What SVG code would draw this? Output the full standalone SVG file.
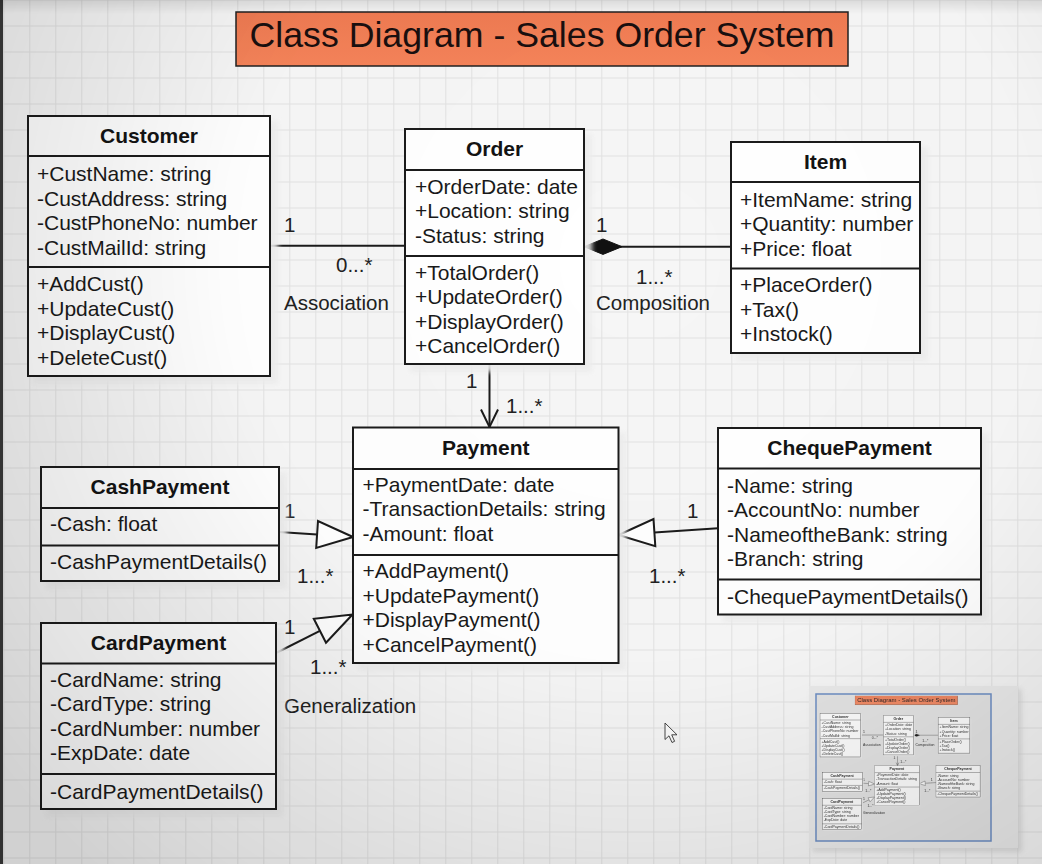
<svg xmlns="http://www.w3.org/2000/svg" xmlns:xlink="http://www.w3.org/1999/xlink" width="1042" height="864" viewBox="0 0 1042 864">
<defs>
<style>
.box{fill:#ffffff;stroke:#1c1c1c;stroke-width:2}
.dv{stroke:#1c1c1c;stroke-width:2}
.sh{fill:#ededed;opacity:.9}
.hd{font-family:"Liberation Sans",Arial,sans-serif;font-weight:bold;font-size:21px;text-anchor:middle;fill:#141414}
.tx{font-family:"Liberation Sans",Arial,sans-serif;font-size:21px;fill:#1a1a1a}
.lb{font-family:"Liberation Sans",Arial,sans-serif;font-size:20.5px;fill:#222}
.ln{stroke:#1c1c1c;stroke-width:2;fill:none}
.tri{fill:#ffffff;stroke:#1c1c1c;stroke-width:2;stroke-linejoin:miter}
</style>
<pattern id="grid" width="26" height="26" patternUnits="userSpaceOnUse" x="3.3" y="-0.5">
<path d="M0 0.5H26M0.5 0V26" stroke="#e2e2e2" stroke-width="1" fill="none"/>
</pattern>
<radialGradient id="vig" cx="640" cy="260" r="820" gradientUnits="userSpaceOnUse">
<stop offset="0" stop-color="#000" stop-opacity="0"/>
<stop offset="0.5" stop-color="#000" stop-opacity="0.01"/>
<stop offset="1" stop-color="#000" stop-opacity="0.15"/>
</radialGradient>
<linearGradient id="topg" x1="0" y1="0" x2="0" y2="1">
<stop offset="0" stop-color="#000" stop-opacity="0.1"/>
<stop offset="1" stop-color="#000" stop-opacity="0"/>
</linearGradient>
<linearGradient id="ttl" x1="0" y1="0" x2="0" y2="1">
<stop offset="0" stop-color="#ee7a52"/>
<stop offset="1" stop-color="#f5845a"/>
</linearGradient>
<filter id="blur3" x="-10%" y="-10%" width="130%" height="130%"><feGaussianBlur stdDeviation="2.5"/></filter>
<filter id="mini" x="-5%" y="-5%" width="110%" height="110%"><feGaussianBlur stdDeviation="4"/></filter>
</defs>

<g id="background">
<rect x="0" y="0" width="1042" height="864" fill="#f6f6f6"/>
<rect x="0" y="0" width="1042" height="864" fill="url(#grid)"/>
<rect x="0" y="0" width="3" height="864" fill="#3a3a3a"/>
</g>

<g id="diagram">
<g id="title">
<rect x="236" y="12" width="612" height="54" fill="url(#ttl)" stroke="#222" stroke-width="1.5"/>
<text x="542" y="47" text-anchor="middle" textLength="585" lengthAdjust="spacingAndGlyphs" style="font-family:'Liberation Sans',Arial,sans-serif;font-size:35px;fill:#1a1010">Class Diagram - Sales Order System</text>
</g>

<g id="connectors">
<g id="assoc">
<line class="ln" x1="270" y1="245.7" x2="405" y2="245.7"/>
<text class="lb" x="284" y="232">1</text>
<text class="lb" x="336" y="272">0...*</text>
<text class="lb" x="284" y="310">Association</text>
</g>
<g id="comp">
<line class="ln" x1="620" y1="246.7" x2="731" y2="246.7"/>
<polygon points="584,246.7 603,239 622,246.7 603,254.4" fill="#111" stroke="#111" stroke-width="1"/>
<text class="lb" x="596" y="232">1</text>
<text class="lb" x="636" y="284">1...*</text>
<text class="lb" x="596" y="310">Composition</text>
</g>
<g id="order-payment">
<line class="ln" x1="489.5" y1="364" x2="489.5" y2="427"/>
<polyline class="ln" points="481,409.5 489.5,427 498,409.5"/>
<text class="lb" x="466" y="388">1</text>
<text class="lb" x="506" y="413">1...*</text>
</g>
<g id="cash-gen">
<line class="ln" x1="279" y1="532" x2="317.1" y2="534.5"/>
<polygon class="tri" points="353,537 318,521 316.2,548"/>
<text class="lb" x="284" y="518">1</text>
<text class="lb" x="297" y="583">1...*</text>
</g>
<g id="card-gen">
<line class="ln" x1="276" y1="653" x2="319.9" y2="630.8"/>
<polygon class="tri" points="352.5,614.5 326,642.8 313.8,618.8"/>
<text class="lb" x="284" y="634">1</text>
<text class="lb" x="310" y="674">1...*</text>
<text class="lb" x="284" y="713">Generalization</text>
</g>
<g id="cheque-gen">
<line class="ln" x1="718" y1="528.3" x2="654.4" y2="532.6"/>
<polygon class="tri" points="618.5,535 653.5,519.1 655.3,546.1"/>
<text class="lb" x="687" y="518">1</text>
<text class="lb" x="649" y="583">1...*</text>
</g>
</g>

<g id="Customer">
<rect class="sh" x="33" y="121" width="245" height="263" filter="url(#blur3)"/>
<rect class="box" x="28" y="116" width="242" height="260"/>
<line class="dv" x1="28" y1="156" x2="270" y2="156"/>
<line class="dv" x1="28" y1="267" x2="270" y2="267"/>
<text class="hd" x="149" y="143">Customer</text>
<text class="tx" x="37" y="181">+CustName: string</text>
<text class="tx" x="37" y="205.5">-CustAddress: string</text>
<text class="tx" x="37" y="230">-CustPhoneNo: number</text>
<text class="tx" x="37" y="254.5">-CustMailId: string</text>
<text class="tx" x="37" y="291">+AddCust()</text>
<text class="tx" x="37" y="315.5">+UpdateCust()</text>
<text class="tx" x="37" y="340">+DisplayCust()</text>
<text class="tx" x="37" y="364.5">+DeleteCust()</text>
</g>

<g id="Order">
<rect class="sh" x="410" y="134" width="182" height="238" filter="url(#blur3)"/>
<rect class="box" x="405" y="129" width="179" height="235"/>
<line class="dv" x1="405" y1="170" x2="584" y2="170"/>
<line class="dv" x1="405" y1="256" x2="584" y2="256"/>
<text class="hd" x="494.5" y="156">Order</text>
<text class="tx" x="415" y="193.5">+OrderDate: date</text>
<text class="tx" x="415" y="218">+Location: string</text>
<text class="tx" x="415" y="242.5">-Status: string</text>
<text class="tx" x="415" y="279.5">+TotalOrder()</text>
<text class="tx" x="415" y="304">+UpdateOrder()</text>
<text class="tx" x="415" y="328.5">+DisplayOrder()</text>
<text class="tx" x="415" y="353">+CancelOrder()</text>
</g>

<g id="Item">
<rect class="sh" x="736" y="147" width="192" height="214" filter="url(#blur3)"/>
<rect class="box" x="731" y="142" width="189" height="211"/>
<line class="dv" x1="731" y1="182" x2="920" y2="182"/>
<line class="dv" x1="731" y1="268.5" x2="920" y2="268.5"/>
<text class="hd" x="825.5" y="169">Item</text>
<text class="tx" x="740" y="206.5">+ItemName: string</text>
<text class="tx" x="740" y="231">+Quantity: number</text>
<text class="tx" x="740" y="255.5">+Price: float</text>
<text class="tx" x="740" y="292">+PlaceOrder()</text>
<text class="tx" x="740" y="316.5">+Tax()</text>
<text class="tx" x="740" y="341">+Instock()</text>
</g>

<g id="Payment">
<rect class="sh" x="358" y="432.5" width="268" height="238" filter="url(#blur3)"/>
<rect class="box" x="353" y="427.5" width="265.5" height="235.5"/>
<line class="dv" x1="353" y1="469" x2="618.5" y2="469"/>
<line class="dv" x1="353" y1="555" x2="618.5" y2="555"/>
<text class="hd" x="485.7" y="455">Payment</text>
<text class="tx" x="362.5" y="491.5">+PaymentDate: date</text>
<text class="tx" x="362.5" y="516">-TransactionDetails: string</text>
<text class="tx" x="362.5" y="540.5">-Amount: float</text>
<text class="tx" x="362.5" y="578">+AddPayment()</text>
<text class="tx" x="362.5" y="602.5">+UpdatePayment()</text>
<text class="tx" x="362.5" y="627">+DisplayPayment()</text>
<text class="tx" x="362.5" y="651.5">+CancelPayment()</text>
</g>

<g id="CashPayment">
<rect class="sh" x="46" y="472" width="241" height="117" filter="url(#blur3)"/>
<rect class="box" x="41" y="467" width="238" height="114"/>
<line class="dv" x1="41" y1="508" x2="279" y2="508"/>
<line class="dv" x1="41" y1="545.5" x2="279" y2="545.5"/>
<text class="hd" x="160" y="494">CashPayment</text>
<text class="tx" x="50" y="531">-Cash: float</text>
<text class="tx" x="50" y="569">-CashPaymentDetails()</text>
</g>

<g id="CardPayment">
<rect class="sh" x="46" y="628" width="238" height="189" filter="url(#blur3)"/>
<rect class="box" x="41" y="623" width="235" height="186"/>
<line class="dv" x1="41" y1="663.5" x2="276" y2="663.5"/>
<line class="dv" x1="41" y1="774" x2="276" y2="774"/>
<text class="hd" x="158.5" y="650">CardPayment</text>
<text class="tx" x="50" y="686.5">-CardName: string</text>
<text class="tx" x="50" y="711">-CardType: string</text>
<text class="tx" x="50" y="735.5">-CardNumber: number</text>
<text class="tx" x="50" y="760">-ExpDate: date</text>
<text class="tx" x="50" y="798.5">-CardPaymentDetails()</text>
</g>

<g id="ChequePayment">
<rect class="sh" x="723" y="433" width="266" height="189" filter="url(#blur3)"/>
<rect class="box" x="718" y="428" width="263" height="186.5"/>
<line class="dv" x1="718" y1="468.5" x2="981" y2="468.5"/>
<line class="dv" x1="718" y1="579.5" x2="981" y2="579.5"/>
<text class="hd" x="849.5" y="455">ChequePayment</text>
<text class="tx" x="727" y="492.5">-Name: string</text>
<text class="tx" x="727" y="517">-AccountNo: number</text>
<text class="tx" x="727" y="541.5">-NameoftheBank: string</text>
<text class="tx" x="727" y="566">-Branch: string</text>
<text class="tx" x="727" y="603.5">-ChequePaymentDetails()</text>
</g>
</g>

<g id="thumbnail">
<rect x="812" y="689" width="210" height="163" fill="#cfcfcf" opacity="0.6" filter="url(#blur3)"/>
<rect x="809" y="686" width="209" height="162" fill="#ebebeb"/>
<rect x="816" y="694" width="175" height="147" fill="#e4e4e4" stroke="#6d8ec4" stroke-width="1.5"/>
<use xlink:href="#diagram" href="#diagram" transform="translate(815.3,693.8) scale(0.168)" filter="url(#mini)" opacity="0.9"/>
</g>

<g id="cursor">
<polygon points="665,723 665,739.5 669,735.8 672,742.5 674.6,741.3 671.7,734.8 677,734.8" fill="#fafafa" stroke="#333" stroke-width="0.9" stroke-linejoin="round"/>
</g>

<g id="overlay" pointer-events="none">
<rect x="0" y="0" width="1042" height="864" fill="url(#vig)"/>
<rect x="0" y="0" width="1042" height="14" fill="url(#topg)"/>
</g>
</svg>
